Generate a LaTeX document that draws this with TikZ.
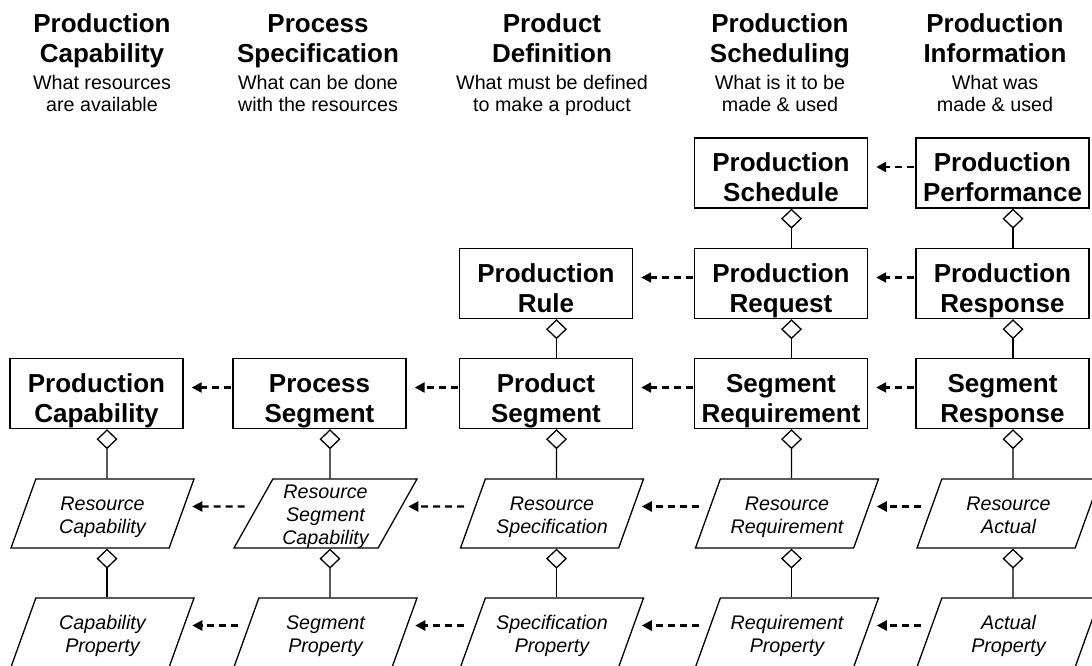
\documentclass[tikz,border=0pt]{standalone}
\usepackage{fontspec}
\setmainfont{Liberation Sans}
\usetikzlibrary{arrows.meta,shapes.geometric}

\begin{document}
\begin{tikzpicture}[
    x=1pt, y=-1pt,
    nosep/.style={inner sep=0},
    title/.style={nosep, align=center, anchor=base, font=\bfseries\fontsize{26}{30}\selectfont},
    subtitle/.style={nosep, align=center, anchor=base, font=\fontsize{19.7}{22}\selectfont},
    entity/.style={rectangle, draw, line width=1.4pt, nosep, align=center,
        minimum width=173pt, minimum height=70pt, text height=57.4pt, text depth=0pt,
        font=\bfseries\fontsize{26}{30}\selectfont},
    detail/.style={trapezium, trapezium left angle=57.5, trapezium right angle=122.5,
        trapezium stretches body=true, draw, line width=1.3pt, nosep, align=center,
        minimum width=183pt, minimum height=69pt, text height=39pt, text depth=0pt,
        font=\itshape\fontsize{19.7}{22.7}\selectfont},
    part/.style={line width=1.3pt, -{Diamond[open, length=20pt, width=21pt]}},
    refers/.style={line width=2.3pt, dash pattern=on 7pt off 5pt, -{Triangle[length=10pt, width=10pt]}}]
\useasboundingbox (0,0) rectangle (1092,666);

% column headings
\node[title] (HCap) at (102,63) {Production\\Capability};
\node[title] (HSpec) at (318,63) {Process\\Specification};
\node[title] (HDef) at (552,63) {Product\\Definition};
\node[title] (HSched) at (780,63) {Production\\Scheduling};
\node[title] (HInfo) at (995,63) {Production\\Information};
\node[subtitle] (SCap) at (102,112) {What resources\\are available};
\node[subtitle] (SSpec) at (318,112) {What can be done\\with the resources};
\node[subtitle] (SDef) at (552,112) {What must be defined\\to make a product};
\node[subtitle] (SSched) at (780,112) {What is it to be\\made \& used};
\node[subtitle] (SInfo) at (995,112) {What was\\made \& used};

% models
\node[entity] (ProdSched) at (781,173) {Production\\Schedule};
\node[entity] (ProdPerf) at (1002.5,173) {Production\\Performance};
\node[entity] (ProdRule) at (546,283.5) {Production\\Rule};
\node[entity] (ProdReq) at (781,283.5) {Production\\Request};
\node[entity] (ProdResp) at (1002.5,283.5) {Production\\Response};
\node[entity] (ProdCap) at (96.5,393.5) {Production\\Capability};
\node[entity] (ProcSeg) at (319.5,393.5) {Process\\Segment};
\node[entity] (ProdSeg) at (546,393.5) {Product\\Segment};
\node[entity] (SegReq) at (781,393.5) {Segment\\Requirement};
\node[entity] (SegResp) at (1002.5,393.5) {Segment\\Response};

\node[detail] (ResCap) at (102.5,513.5) {Resource\\Capability};
\node[detail, text height=61pt] (ResSegCap) at (325.5,513.5) {Resource\\Segment\\Capability};
\node[detail] (ResSpec) at (552,513.5) {Resource\\Specification};
\node[detail] (ResReq) at (787,513.5) {Resource\\Requirement};
\node[detail] (ResAct) at (1008.5,513.5) {Resource\\Actual};
\node[detail] (CapProp) at (102.5,632.5) {Capability\\Property};
\node[detail] (SegProp) at (325.5,632.5) {Segment\\Property};
\node[detail] (SpecProp) at (552,632.5) {Specification\\Property};
\node[detail] (ReqProp) at (787,632.5) {Requirement\\Property};
\node[detail] (ActProp) at (1008.5,632.5) {Actual\\Property};

% aggregation
\path[draw, part] ([xshift=10.5pt]ProdReq.north) -- ([xshift=10.5pt]ProdSched.south);
\path[draw, part] ([xshift=10.5pt]SegReq.north) -- ([xshift=10.5pt]ProdReq.south);
\path[draw, part] ([xshift=10.5pt]ProdResp.north) -- ([xshift=10.5pt]ProdPerf.south);
\path[draw, part] ([xshift=10.5pt]SegResp.north) -- ([xshift=10.5pt]ProdResp.south);
\path[draw, part] ([xshift=10.5pt]ProdSeg.north) -- ([xshift=10.5pt]ProdRule.south);
\path[draw, part] ([xshift=4.5pt]ResCap.north) -- ([xshift=10.5pt]ProdCap.south);
\path[draw, part] ([xshift=4.5pt]ResSegCap.north) -- ([xshift=10.5pt]ProcSeg.south);
\path[draw, part] ([xshift=4.5pt]ResSpec.north) -- ([xshift=10.5pt]ProdSeg.south);
\path[draw, part] ([xshift=4.5pt]ResReq.north) -- ([xshift=10.5pt]SegReq.south);
\path[draw, part] ([xshift=4.5pt]ResAct.north) -- ([xshift=10.5pt]SegResp.south);
\path[draw, part] ([xshift=4.5pt]CapProp.north) -- ([xshift=4.5pt]ResCap.south);
\path[draw, part] ([xshift=4.5pt]SegProp.north) -- ([xshift=4.5pt]ResSegCap.south);
\path[draw, part] ([xshift=4.5pt]SpecProp.north) -- ([xshift=4.5pt]ResSpec.south);
\path[draw, part] ([xshift=4.5pt]ReqProp.north) -- ([xshift=4.5pt]ResReq.south);
\path[draw, part] ([xshift=4.5pt]ActProp.north) -- ([xshift=4.5pt]ResAct.south);

% references
\path[draw, refers] ([xshift=-1pt, yshift=6pt]ProdPerf.west) -- ([xshift=8pt, yshift=6pt]ProdSched.east);
\path[draw, refers] ([xshift=-1pt, yshift=6pt]ProdResp.west) -- ([xshift=8pt, yshift=6pt]ProdReq.east);
\path[draw, refers] ([xshift=-1pt, yshift=6pt]ProdReq.west) -- ([xshift=8pt, yshift=6pt]ProdRule.east);
\path[draw, refers] ([xshift=-1pt, yshift=6pt]SegResp.west) -- ([xshift=8pt, yshift=6pt]SegReq.east);
\path[draw, refers] ([xshift=-1pt, yshift=6pt]SegReq.west) -- ([xshift=8pt, yshift=6pt]ProdSeg.east);
\path[draw, refers] ([xshift=-1pt, yshift=6pt]ProdSeg.west) -- ([xshift=8pt, yshift=6pt]ProcSeg.east);
\path[draw, refers] ([xshift=-1pt, yshift=6pt]ProcSeg.west) -- ([xshift=8pt, yshift=6pt]ProdCap.east);
\path[draw, refers] ([xshift=-8pt, yshift=7pt]ResAct.west) -- ([xshift=10pt, yshift=7pt]ResReq.east);
\path[draw, refers] ([xshift=-8pt, yshift=7pt]ResReq.west) -- ([xshift=10pt, yshift=7pt]ResSpec.east);
\path[draw, refers] ([xshift=-8pt, yshift=7pt]ResSpec.west) -- ([xshift=10pt, yshift=7pt]ResSegCap.east);
\path[draw, refers] ([xshift=-8pt, yshift=7pt]ResSegCap.west) -- ([xshift=10pt, yshift=7pt]ResCap.east);
\path[draw, refers] ([xshift=-8pt, yshift=7pt]ActProp.west) -- ([xshift=10pt, yshift=7pt]ReqProp.east);
\path[draw, refers] ([xshift=-8pt, yshift=7pt]ReqProp.west) -- ([xshift=10pt, yshift=7pt]SpecProp.east);
\path[draw, refers] ([xshift=-8pt, yshift=7pt]SpecProp.west) -- ([xshift=10pt, yshift=7pt]SegProp.east);
\path[draw, refers] ([xshift=-8pt, yshift=7pt]SegProp.west) -- ([xshift=10pt, yshift=7pt]CapProp.east);

\end{tikzpicture}
\end{document}
